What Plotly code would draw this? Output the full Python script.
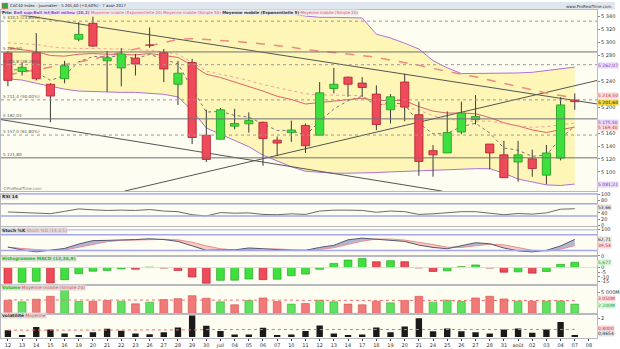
import plotly.graph_objects as go

W, H = 620, 349
RM = 16

dates = ["12", "13", "14", "15", "16", "19", "20", "21", "22", "23", "26", "27", "28", "29", "30",
         "juil", "04", "05", "06", "07", "10", "11", "12", "13", "14", "17", "18", "19", "20", "21",
         "24", "25", "26", "27", "28", "31", "août", "02", "03", "04", "07", "08"]

open_ = [5284, 5255.2, 5284.4, 5235.5, 5244.1, 5305.2, 5329.8, 5271.8, 5260.8, 5275.9, 5296.1, 5284.4,
         5235.5, 5269.2, 5156.7, 5150.6, 5170.8, 5174.4, 5176.8, 5149.1, 5160.8, 5171.8, 5156.7, 5229.0,
         5246.5, 5237.4, 5220.3, 5196.1, 5239.0, 5188.5, 5132.9, 5129.4, 5161.7, 5180.9, 5143.1, 5126.4,
         5115.3, 5120.3, 5095.0, 5121.4, 5211.2]
high = [5287, 5269.2, 5314.7, 5237.0, 5271.8, 5331.4, 5340.0, 5287.0, 5291.5, 5282.4, 5323.3, 5290.0,
        5271.8, 5274.9, 5196.1, 5198.7, 5197.6, 5192.0, 5177.9, 5154.7, 5179.4, 5174.9, 5239.0, 5260.8,
        5247.6, 5246.5, 5233.9, 5220.3, 5251.7, 5208.7, 5141.5, 5193.5, 5208.7, 5218.8, 5143.1, 5148.0,
        5148.0, 5134.4, 5141.5, 5215.3, 5221.4]
low = [5232.4, 5249.1, 5241.5, 5176.8, 5237.0, 5302.1, 5293.0, 5223.8, 5232.4, 5249.1, 5292.0, 5239.0,
       5203.6, 5143.1, 5115.3, 5150.6, 5165.8, 5160.8, 5109.3, 5124.4, 5146.5, 5129.4, 5156.7, 5221.4,
       5216.2, 5216.2, 5164.7, 5174.9, 5178.3, 5094.1, 5092.6, 5129.4, 5158.2, 5173.4, 5104.1, 5091.1,
       5085.0, 5092.6, 5080.9, 5117.8, 5196.1]
close = [5241.5, 5261.7, 5244.1, 5217.3, 5264.2, 5312.7, 5294.5, 5276.4, 5282.4, 5266.8, 5295.0, 5259.2,
         5252.6, 5153.2, 5119.3, 5196.1, 5174.9, 5179.4, 5151.7, 5144.6, 5164.7, 5140.5, 5222.3, 5235.5,
         5235.5, 5230.5, 5173.4, 5216.2, 5200.2, 5116.2, 5126.4, 5160.8, 5191.1, 5185.9, 5129.4, 5091.1,
         5126.4, 5105.2, 5129.4, 5203.6, 5208.7]

bb_up = [5355, 5355, 5357, 5355, 5355, 5357, 5358, 5358, 5357, 5355, 5354, 5351, 5348, 5344, 5344, 5344,
         5344, 5344, 5344, 5344, 5344, 5341, 5339, 5339, 5338, 5338, 5313, 5307, 5299, 5290, 5272, 5261,
         5252, 5252, 5252, 5252, 5253, 5254, 5257, 5260, 5262.07]
bb_lo = [5244, 5242, 5237, 5232, 5228, 5225, 5224, 5223, 5223, 5223, 5222, 5220, 5216, 5195, 5168, 5158,
         5148, 5139, 5126, 5117, 5108, 5101, 5099, 5098, 5098, 5098, 5099, 5100, 5101, 5101, 5102, 5104,
         5105, 5105, 5105, 5098, 5089, 5084, 5080, 5079, 5081.21]
sma20 = [5299.5, 5298.5, 5297, 5293.5, 5291.5, 5291, 5291, 5290.5, 5290, 5289, 5288, 5285.5, 5282, 5269.5,
         5256, 5251, 5246, 5241.5, 5235, 5230.5, 5226, 5221, 5219, 5218.5, 5218, 5218, 5206, 5203.5, 5200,
         5195.5, 5187, 5182.5, 5178.5, 5178.5, 5178.5, 5175, 5171, 5169, 5170, 5173, 5175.5]
ema20 = [5292, 5289, 5286, 5280, 5279, 5282, 5283, 5282, 5282, 5281, 5283, 5280, 5277, 5265, 5251, 5246,
         5239, 5233, 5225, 5217, 5212, 5205, 5207, 5210, 5212, 5214, 5210, 5211, 5210, 5201, 5194, 5191,
         5191, 5190, 5184, 5176, 5171, 5165, 5161, 5165, 5169.4]
ema5 = [5257.0, 5258.6, 5253.8, 5241.6, 5249.1, 5270.3, 5278.4, 5277.7, 5279.3, 5275.1, 5281.7, 5274.2,
        5267.0, 5229.1, 5192.5, 5193.7, 5187.4, 5184.7, 5173.7, 5164.0, 5164.2, 5156.3, 5178.3, 5197.4,
        5210.1, 5216.9, 5202.4, 5207.0, 5204.7, 5175.2, 5158.9, 5159.5, 5170.0, 5175.3, 5160.0, 5137.0,
        5133.5, 5124.1, 5125.9, 5151.8, 5170.8]
sma50 = [5250, 5254, 5258, 5262, 5266, 5270, 5274, 5280, 5285, 5290, 5296, 5301, 5305, 5306, 5305, 5304,
         5302, 5300, 5298, 5296, 5293, 5289, 5287, 5285, 5283, 5280, 5277, 5273, 5270, 5265, 5260, 5255,
         5251, 5247, 5242, 5236, 5231, 5226, 5222, 5218, 5214.5]

fib_levels = [5333.1, 5265.8, 5211.4, 5157.0]
fib_labels = ["5 333,1 (23,60%)", "5 265,8 (38,20%)", "5 211,4 (50,00%)", "5 157,0 (61,80%)"]
hline_levels = [5285.5, 5182.03, 5121.8]
hline_labels = ["5 285,50", "5 182,03", "5 121,80"]
# trend lines: (bar index, price) pairs
trend_x = [[-0.49, 41.6], [8.22, 41.6], [-0.49, 30.66]]
trend_y = [[5347.5, 5205.0], [5070.3, 5241.5], [5180.9, 5070.3]]

rsi = [43, 42, 40, 37.5, 45, 53, 50, 48, 49, 48, 51, 46, 44, 34, 30, 41, 39, 40, 35, 34, 37, 35, 46, 49,
       49, 48, 42, 46, 44, 35, 37, 40, 44, 44, 38, 34, 38, 36, 40, 52, 53.66]
stoch_k = [33.7, 22.5, 15, 22.5, 28, 45, 58, 59, 60, 62, 65, 62, 55, 37.5, 21, 22.5, 22.5, 30, 26, 22.5,
           20.6, 21, 32, 40, 61, 67.4, 63.7, 61, 55, 41, 32, 27, 37.5, 50, 46, 30, 18.7, 15, 21, 37.5, 62.71]
stoch_d = [32, 28, 24, 20, 22, 32, 44, 54, 59, 60, 62, 63, 61, 52, 38, 27, 22, 25, 26, 26, 23, 21, 24, 31,
           44, 56, 64, 64, 60, 52, 43, 33, 32, 38, 44, 42, 32, 21, 18, 25, 39.54]
macd_hist = [-16.8, -15.8, -14.7, -16.5, -13, -6.6, -3.9, -3.2, -1.5, -1.8, 0.5, -0.5, -3.2, -10.2, -16.8,
             -13.7, -13.5, -12.3, -13, -12.5, -8.7, -7, -1.8, 4.5, 8, 9.8, 6.3, 7.4, 6.3, -0.3, -4.2, -3.5,
             1, 2.8, -0.5, -5, -4.6, -6, -4.2, 3.5, 5.677]
macd_dir = "rggrgggggrgrrrrgggrgggggggrgrrrgggrrgrggg"
volume = [3.14, 2.74, 3.37, 4.07, 6.32, 2.81, 2.90, 3.04, 2.90, 2.27, 2.67, 3.28, 3.51, 4.22, 3.61, 2.74,
          2.04, 3.04, 3.68, 2.81, 2.20, 2.34, 3.14, 2.74, 2.20, 2.04, 2.90, 2.51, 3.04, 4.07, 2.67, 3.14,
          2.81, 3.68, 4.07, 3.44, 2.90, 2.90, 2.90, 2.97, 2.20]
volume_dir = "rgrrggrrgrgrrrrgrgrrgrggrrrgrrgggrrrgrggg"
volume_ma = [3.2, 3.2, 3.2, 3.25, 3.3, 3.3, 3.3, 3.3, 3.3, 3.25, 3.25, 3.25, 3.25, 3.3, 3.3, 3.3, 3.25, 3.25,
             3.25, 3.2, 3.15, 3.1, 3.1, 3.1, 3.05, 3.0, 3.0, 3.0, 3.0, 3.05, 3.05, 3.05, 3.05, 3.1, 3.15,
             3.15, 3.15, 3.15, 3.15, 3.1, 3.05]
volat = [0.7, 0.1, 1.05, 0.8, 0.35, 0.2, 0.5, 0.88, 0.67, 0.35, 0.28, 0.5, 1.0, 2.28, 1.2, 0.63, 0.25, 0.25,
         0.99, 0.2, 0.25, 0.63, 1.23, 0.35, 0.18, 0.25, 1.0, 0.5, 1.1, 2.0, 0.6, 0.9, 0.6, 0.5, 0.37, 0.8,
         0.9, 0.45, 0.8, 1.6, 0.1]
volat_ma = [0.72, 0.72, 0.73, 0.73, 0.72, 0.71, 0.7, 0.7, 0.7, 0.7, 0.69, 0.68, 0.7, 0.75, 0.78, 0.78, 0.77,
            0.76, 0.78, 0.77, 0.76, 0.76, 0.78, 0.77, 0.75, 0.74, 0.76, 0.75, 0.78, 0.82, 0.82, 0.82, 0.8,
            0.79, 0.78, 0.78, 0.79, 0.78, 0.79, 0.82, 0.8]

n = len(close)
idx = list(range(n))

FONT = "DejaVu Sans"
GREEN, GREEN_D = "#3ee03e", "#1f9a1f"
RED, RED_D = "#ee4a5a", "#b0202e"
PURPLE = "#b070d8"


def pfy(py):
    return 1 - py / H


fig = go.Figure()

# ---------------- price panel ----------------
fig.add_trace(go.Scatter(x=idx, y=bb_lo, mode="lines", line=dict(color=PURPLE, width=1), xaxis="x", yaxis="y"))
fig.add_trace(go.Scatter(x=idx, y=bb_up, mode="lines", line=dict(color=PURPLE, width=1), fill="tonexty",
                         fillcolor="#fdf6b6", xaxis="x", yaxis="y"))
for tx, ty in zip(trend_x, trend_y):
    fig.add_trace(go.Scatter(x=tx, y=ty, mode="lines", line=dict(color="#555555", width=1), xaxis="x", yaxis="y"))
fig.add_trace(go.Scatter(x=idx, y=sma50, mode="lines", line=dict(color="#f08a80", width=1.5, dash="dash"), xaxis="x", yaxis="y"))
fig.add_trace(go.Scatter(x=idx, y=ema20, mode="lines", line=dict(color="#e2606a", width=1), xaxis="x", yaxis="y"))
fig.add_trace(go.Scatter(x=idx, y=sma20, mode="lines", line=dict(color="#f0a0a0", width=1, dash="dot"), xaxis="x", yaxis="y"))
fig.add_trace(go.Scatter(x=idx, y=ema5, mode="lines", line=dict(color="#777777", width=1, dash="dot"), xaxis="x", yaxis="y"))

# wicks
wx, wy = [], []
for i in idx:
    wx += [i, i, None]
    wy += [low[i], high[i], None]
fig.add_trace(go.Scatter(x=wx, y=wy, mode="lines", line=dict(color="#3a3a3a", width=1), xaxis="x", yaxis="y"))

# candle bodies as filled polygons (so they sit above the band fill)
hw = 0.29
groups = {"up": ([], []), "down": ([], []), "flat": ([], [])}
for i in idx:
    o, c = open_[i], close[i]
    key = "up" if c - o > 1 else ("down" if o - c > 1 else "flat")
    gx, gy = groups[key]
    gx += [i - hw, i + hw, i + hw, i - hw, i - hw, None]
    gy += [o, o, c, c, o, None]
fig.add_trace(go.Scatter(x=groups["up"][0], y=groups["up"][1], mode="lines", fill="toself", fillcolor=GREEN,
                         line=dict(color=GREEN_D, width=0.8), xaxis="x", yaxis="y"))
fig.add_trace(go.Scatter(x=groups["down"][0], y=groups["down"][1], mode="lines", fill="toself", fillcolor=RED,
                         line=dict(color=RED_D, width=0.8), xaxis="x", yaxis="y"))
fig.add_trace(go.Scatter(x=groups["flat"][0], y=groups["flat"][1], mode="lines", fill="toself", fillcolor="#222222",
                         line=dict(color="#222222", width=1), xaxis="x", yaxis="y"))

# ---------------- RSI ----------------
fig.add_trace(go.Scatter(x=idx, y=rsi, mode="lines", line=dict(color="#6a6a6a", width=1), xaxis="x2", yaxis="y2"))

# ---------------- Stochastic ----------------
top_kd = [max(k, d) for k, d in zip(stoch_k, stoch_d)]
fig.add_trace(go.Scatter(x=idx, y=stoch_d, mode="lines", line=dict(width=0, color="rgba(0,0,0,0)"), xaxis="x3", yaxis="y3"))
fig.add_trace(go.Scatter(x=idx, y=top_kd, mode="lines", line=dict(width=0, color="rgba(0,0,0,0)"), fill="tonexty",
                         fillcolor="rgba(120,125,185,0.55)", xaxis="x3", yaxis="y3"))
fig.add_trace(go.Scatter(x=idx, y=stoch_k, mode="lines", line=dict(width=0, color="rgba(0,0,0,0)"), xaxis="x3", yaxis="y3"))
fig.add_trace(go.Scatter(x=idx, y=top_kd, mode="lines", line=dict(width=0, color="rgba(0,0,0,0)"), fill="tonexty",
                         fillcolor="rgba(245,160,150,0.55)", xaxis="x3", yaxis="y3"))
fig.add_trace(go.Scatter(x=idx, y=stoch_d, mode="lines", line=dict(color="#e89090", width=1), xaxis="x3", yaxis="y3"))
fig.add_trace(go.Scatter(x=idx, y=stoch_k, mode="lines", line=dict(color="#555577", width=1), xaxis="x3", yaxis="y3"))

# ---------------- MACD histogram ----------------
mcol = [GREEN if c == "g" else RED for c in macd_dir]
mline = [GREEN_D if c == "g" else RED_D for c in macd_dir]
fig.add_trace(go.Bar(x=idx, y=macd_hist, width=0.55, marker=dict(color=mcol, line=dict(color=mline, width=0.6)),
                     xaxis="x4", yaxis="y4"))

# ---------------- Volume ----------------
vcol = ["#5fe05f" if c == "g" else "#f07a7a" for c in volume_dir]
vline = ["#38b038" if c == "g" else "#d05050" for c in volume_dir]
fig.add_trace(go.Bar(x=idx, y=volume, width=0.55, marker=dict(color=vcol, line=dict(color=vline, width=0.6)),
                     xaxis="x5", yaxis="y5"))
fig.add_trace(go.Scatter(x=idx, y=volume_ma, mode="lines", line=dict(color="#f07070", width=1, dash="dot"), xaxis="x5", yaxis="y5"))

# ---------------- Volatility ----------------
fig.add_trace(go.Bar(x=idx, y=volat, width=0.45, marker=dict(color="#1a1a1a", line=dict(width=0)), xaxis="x6", yaxis="y6"))
fig.add_trace(go.Scatter(x=idx, y=volat_ma, mode="lines", line=dict(color="#f07070", width=1, dash="dot"), xaxis="x6", yaxis="y6"))

# ---------------- layout ----------------
xr = [-0.4875, 41.57]
panels = {
    "": (8, 193, [5070.3, 5350.6]),
    "2": (195.5, 228.5, [-2.6, 103.2]),
    "3": (230, 259, [0, 108.6]),
    "4": (259.5, 288.5, [-18.4, 12.1]),
    "5": (289, 318, [-0.07, 6.72]),
    "6": (318.5, 342.5, [-0.08, 2.44]),
}
lay = dict(width=W, height=H, margin=dict(l=0, r=RM, t=0, b=0), showlegend=False,
           paper_bgcolor="#ffffff", plot_bgcolor="#fdfdf1", barmode="overlay",
           font=dict(family=FONT, size=5, color="#333333"))
axfont = dict(family=FONT, size=5, color="#333333")
for k, (t, b, rng) in panels.items():
    lay["xaxis" + k] = dict(domain=[0, 1], range=xr, anchor="y" + k, showgrid=False, zeroline=False,
                            showline=True, mirror=True, linecolor="#b8b8c0", linewidth=1,
                            showticklabels=(k == "6"), ticks="outside" if k == "6" else "", ticklen=2,
                            tickvals=list(range(len(dates))), ticktext=dates, tickfont=axfont,
                            matches=None if k == "" else "x", fixedrange=True)
    lay["yaxis" + k] = dict(domain=[pfy(b), pfy(t)], range=rng, anchor="x" + k, side="right", showgrid=False,
                            zeroline=False, showline=True, mirror=True, linecolor="#b8b8c0", linewidth=1,
                            tickfont=axfont, ticks="outside", ticklen=2, tickcolor="#888888", fixedrange=True)

price_ticks = [5100, 5120, 5140, 5160, 5200, 5240, 5280, 5300, 5320, 5340]
lay["yaxis"].update(tickvals=price_ticks, ticktext=[f"5 {v - 5000:03d}" for v in price_ticks])
lay["yaxis2"].update(tickvals=[0, 20, 40, 80, 100], ticktext=["0", "20", "40", "80", "100"])
lay["yaxis3"].update(tickvals=[0, 100], ticktext=["0", "100"])
lay["yaxis4"].update(tickvals=[-15, -10, -5, 0], ticktext=["-15", "-10", "-5", "0"])
lay["yaxis5"].update(tickvals=[5], ticktext=["5 000M"])
lay["yaxis6"].update(tickvals=[2], ticktext=["2"])

shapes = []
for v in fib_levels:
    shapes.append(dict(type="line", xref="x domain", yref="y", x0=0, x1=1, y0=v, y1=v,
                       line=dict(color="#9a9a9a", width=1, dash="dot")))
for v in hline_levels:
    shapes.append(dict(type="line", xref="x domain", yref="y", x0=0, x1=1, y0=v, y1=v,
                       line=dict(color="#707070", width=1)))
for v in (30, 70):
    shapes.append(dict(type="line", xref="x2 domain", yref="y2", x0=0, x1=1, y0=v, y1=v, line=dict(color="#a6a6ee", width=1.5)))
for v in (20, 80):
    shapes.append(dict(type="line", xref="x3 domain", yref="y3", x0=0, x1=1, y0=v, y1=v, line=dict(color="#a6a6ee", width=1.5)))
shapes.append(dict(type="line", xref="x2 domain", yref="y2", x0=0, x1=1, y0=100, y1=100, line=dict(color="#c8c8ee", width=1)))
shapes.append(dict(type="line", xref="x3 domain", yref="y3", x0=0, x1=1, y0=100, y1=100, line=dict(color="#c8c8ee", width=1.5)))
shapes.append(dict(type="line", xref="x4 domain", yref="y4", x0=0, x1=1, y0=0, y1=0, line=dict(color="#dddddd", width=1)))
# title bar
shapes.append(dict(type="rect", xref="paper", yref="paper", x0=0, x1=1.03, y0=pfy(8), y1=1,
                   fillcolor="#dfe6ee", line=dict(width=0), layer="below"))
shapes.append(dict(type="rect", xref="paper", yref="paper", x0=0.002, x1=0.011, y0=pfy(6.5), y1=pfy(1.5),
                   fillcolor="#33aa33", line=dict(color="#cc3333", width=0.6)))
lay["shapes"] = shapes

ann = []


def add_text(x, y, text, xref="paper", yref="paper", color="#333333", bg=None, size=5, xanchor="left",
             yanchor="middle", yshift=0, bold=False):
    d = dict(x=x, y=y, xref=xref, yref=yref, text=(f"<b>{text}</b>" if bold else text), showarrow=False,
             xanchor=xanchor, yanchor=yanchor, yshift=yshift,
             font=dict(family=FONT, size=size, color=color), borderpad=0)
    if bg:
        d["bgcolor"] = bg
    ann.append(d)


add_text(0.014, pfy(4), "CAC40 Index - Journalier - 5 201,60 (+0,60%) - 7 août 2017", color="#222222", size=3.9)
add_text(1.0248, pfy(4.5), "www.ProRealTime.com", color="#333333", xanchor="right", size=4)
legend = ("<b>Prix: </b><span style='color:#9a40c8'><b>Boll sup;Boll inf;Boll milieu (20,2)</b></span> "
          "<span style='color:#e85060'>Moyenne mobile (Exponentielle 20)</span> "
          "<span style='color:#e85060'>Moyenne mobile (Simple 50)</span> "
          "<b>Moyenne mobile (Exponentielle 5)</b> "
          "<span style='color:#e85060'>Moyenne mobile (Simple 20)</span>")
add_text(0.0, pfy(10.5), legend, bg="#ececec", size=4)
for v, lab in zip(fib_levels, fib_labels):
    add_text(0.002, v, lab, yref="y", color="#555555", yanchor="bottom", size=4.2)
for v, lab in zip(hline_levels, hline_labels):
    add_text(0.002, v, lab, yref="y", color="#555555", yanchor="bottom", size=4.2)
add_text(0.002, pfy(190), "©ProRealTime.com", color="#777777", size=4)
add_text(0.0, pfy(198), "<b>RSI 14</b>", bg="#dcdcdc", size=4.4)
add_text(0.0, pfy(233), "<b>Stoch %K</b> <span style='color:#e07070'>Stoch %D (14,3,5)</span>", bg="#dcdcdc", size=4.4)
add_text(0.0, pfy(262), "<span style='color:#22bb22'><b>Histogramme MACD (12,26,9)</b></span>", bg="#dcdcdc", size=4.4)
add_text(0.0, pfy(291), "<span style='color:#22bb22'><b>Volume</b></span> <span style='color:#e05050'>Moyenne mobile (Simple 20)</span>", bg="#dcdcdc", size=4.4)
add_text(0.0, pfy(320), "<b>volatilité</b> <span style='color:#e05050'>Moyenne</span>", bg="#dcdcdc", size=4.4)

# right-side value boxes
add_text(1.0, bb_up[-1], "5 262,07", xref="paper", yref="y", color="#8a3cc0", bg="#e6d8f4", yshift=1.5, size=4.5)
add_text(1.0, sma50[-1], "5 214,50", xref="paper", yref="y", color="#d03040", bg="#f8dada", yshift=2.5, size=4.5)
add_text(1.0, close[-1], "5 201,60", xref="paper", yref="y", color="#222222", bg="#f2d33a", yshift=-0.5, size=4.5)
add_text(1.0, sma20[-1], "5 175,50", xref="paper", yref="y", color="#8a3cc0", bg="#e6d8f4", yshift=0.5, size=4.4)
add_text(1.0, ema20[-1], "5 169,40", xref="paper", yref="y", color="#d03040", bg="#f8dada", yshift=-0.8, size=4.4)
add_text(1.0, bb_lo[-1], "5 081,21", xref="paper", yref="y", color="#8a3cc0", bg="#e6d8f4", size=4.5)
add_text(1.0, rsi[-1], "53,66", xref="paper", yref="y2", color="#333333", bg="#e4e4e4", yshift=1.5, size=4.5)
add_text(1.0, stoch_k[-1], "62,71", xref="paper", yref="y3", color="#333333", bg="#e4e4e4", size=4.5)
add_text(1.0, stoch_d[-1], "39,54", xref="paper", yref="y3", color="#d03040", bg="#f8dada", size=4.5)
add_text(1.0, macd_hist[-1], "5,677", xref="paper", yref="y4", color="#229922", bg="#d8f4d8", size=4.5)
add_text(1.0, volume_ma[-1], "3 050M", xref="paper", yref="y5", color="#d03040", bg="#f8dada", yshift=2, size=4.5)
add_text(1.0, volume[-1], "2 200M", xref="paper", yref="y5", color="#229922", bg="#d8f4d8", yshift=-1, size=4.5)
add_text(1.0, volat_ma[-1], "0,8000", xref="paper", yref="y6", color="#d03040", bg="#f8dada", yshift=1, size=4.5)
add_text(1.0, 0.45, "0,4654", xref="paper", yref="y6", color="#333333", bg="#e4e4e4", yshift=-1, size=4.5)
lay["annotations"] = ann

fig.update_layout(**lay)
fig.write_html("out.html")
